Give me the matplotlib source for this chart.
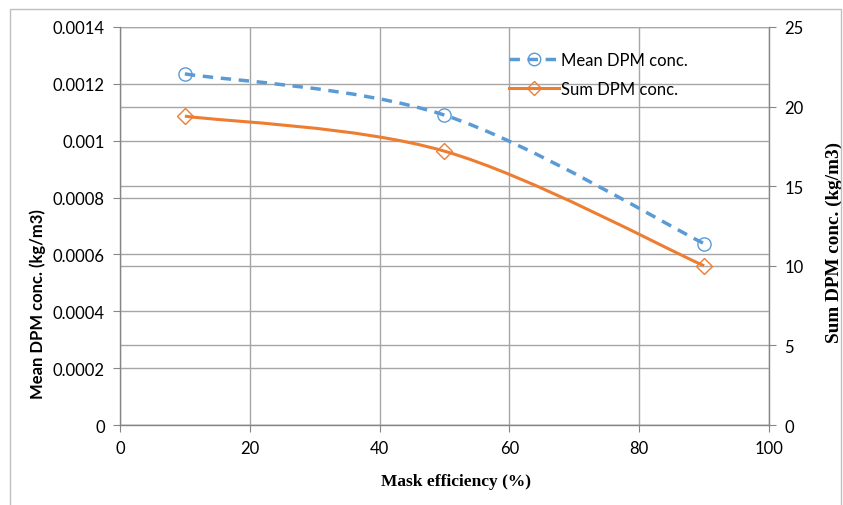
import numpy as np
import matplotlib.pyplot as plt
from matplotlib.path import Path
from matplotlib.patches import PathPatch
from matplotlib.lines import Line2D

mask_eff = [10, 50, 90]
mean_dpm = [0.001235, 0.00109, 0.000638]
sum_dpm = [19.4, 17.2, 10.0]

xticks = [0, 20, 40, 60, 80, 100]
left_ticks = [0, 0.0002, 0.0004, 0.0006, 0.0008, 0.001, 0.0012, 0.0014]
left_labels = ["0", "0.0002", "0.0004", "0.0006", "0.0008", "0.001", "0.0012", "0.0014"]
right_ticks = [0, 5, 10, 15, 20, 25]

BLUE = "#5B9BD5"
ORANGE = "#ED7D31"
GRID = "#a6a6a6"
AXC = "#868686"
TICKFONT = "Lato"


def smooth_path(xs, ys):
    # bezier segments with control points from neighbouring points (1/6 rule)
    p = np.column_stack([xs, ys]).astype(float)
    ext = np.vstack([p[0], p, p[-1]])
    verts = [p[0]]
    codes = [Path.MOVETO]
    for i in range(len(p) - 1):
        p0, p1, p2, p3 = ext[i], ext[i + 1], ext[i + 2], ext[i + 3]
        c1 = p1 + (p2 - p0) / 6.0
        c2 = p2 - (p3 - p1) / 6.0
        verts += [c1, c2, p2]
        codes += [Path.CURVE4] * 3
    return Path(verts, codes)


fig = plt.figure(figsize=(8.43, 5.06), dpi=100)
ax2 = fig.add_axes([0.1423, 0.1581, 0.7699, 0.7866])
ax = fig.add_axes([0.1423, 0.1581, 0.7699, 0.7866], sharex=ax2)
ax.set_zorder(ax2.get_zorder() + 1)
ax.patch.set_visible(False)

# outer chart frame
fig.add_artist(plt.Rectangle((10 / 843, -0.05), 831 / 843, 1 - 10 / 506 + 0.05,
                             transform=fig.transFigure, fill=False,
                             edgecolor="#bfbfbf", lw=1.0))

ax.set_xlim(0, 100)
ax.set_ylim(0, 0.0014)
ax2.set_ylim(0, 25)

ax.set_xticks(xticks)
ax.set_yticks(left_ticks)
ax.set_yticklabels(left_labels)
ax2.set_yticks(right_ticks)
ax2.yaxis.tick_right()
ax2.yaxis.set_label_position("right")
ax2.tick_params(axis="x", bottom=False, labelbottom=False)

for a in (ax, ax2):
    for s in a.spines.values():
        s.set_visible(False)
ax.spines["left"].set_visible(True)
ax.spines["bottom"].set_visible(True)
ax2.spines["right"].set_visible(True)
for s in (ax.spines["left"], ax.spines["bottom"], ax2.spines["right"]):
    s.set_color(AXC)
    s.set_linewidth(1.0)

ax.grid(True, color=GRID, lw=1.0)
ax2.grid(True, axis="y", color=GRID, lw=1.0)
ax2.grid(False, axis="x")
ax.set_axisbelow(True)

ax.tick_params(axis="both", direction="out", length=5, color=AXC, labelsize=12, pad=6)
ax2.tick_params(axis="y", direction="out", length=5, color=AXC, labelsize=12, pad=6)
for lab in ax.get_xticklabels() + ax.get_yticklabels() + ax2.get_yticklabels():
    lab.set_fontfamily(TICKFONT)

# mean series on left scale
ax.add_patch(PathPatch(smooth_path(mask_eff, mean_dpm), fill=False, edgecolor=BLUE,
                       lw=2.5, linestyle=(0, (3, 2.2)), transform=ax.transData, zorder=3))
ax.plot(mask_eff, mean_dpm, ls="none", marker="o", ms=9.5, mfc="none", mec=BLUE,
        mew=1.0, zorder=4)

# sum series on right scale, drawn in the top axes
ax.add_patch(PathPatch(smooth_path(mask_eff, sum_dpm), fill=False, edgecolor=ORANGE,
                       lw=2.2, transform=ax2.transData, zorder=3))
ax.plot(mask_eff, sum_dpm, ls="none", marker="D", ms=8, mfc="none", mec=ORANGE,
        mew=1.0, transform=ax2.transData, zorder=4)

ax.set_xlabel("Mask efficiency (%)", fontfamily="Liberation Serif", fontweight="bold",
              fontsize=12.5)
ax.xaxis.set_label_coords(0.518, -0.12)
ax.set_ylabel("Mean DPM conc. (kg/m3)", fontfamily=TICKFONT, fontweight="bold",
              fontsize=12)
ax.yaxis.set_label_coords(-0.114, 0.307)
ax2.set_ylabel("Sum DPM conc. (kg/m3)", fontfamily="Liberation Serif", fontweight="bold",
               fontsize=13.8, rotation=90)
ax2.yaxis.set_label_coords(1.087, 0.46)

handles = [
    Line2D([], [], color=BLUE, lw=2.5, ls=(0, (3, 2.2)), marker="o", ms=9,
           mfc="none", mec=BLUE, mew=1.0),
    Line2D([], [], color=ORANGE, lw=2.2, marker="D", ms=7.5, mfc="none", mec=ORANGE, mew=1.0),
]
ax.legend(handles, ["Mean DPM conc.", "Sum DPM conc."], loc="upper left",
          bbox_to_anchor=(502 / 843, 1 - 46 / 506), bbox_transform=fig.transFigure,
          frameon=False, prop={"family": TICKFONT, "size": 12}, handlelength=3.0,
          handletextpad=0.15, labelspacing=0.8, borderaxespad=0)

fig.savefig("out.png", dpi=100)
